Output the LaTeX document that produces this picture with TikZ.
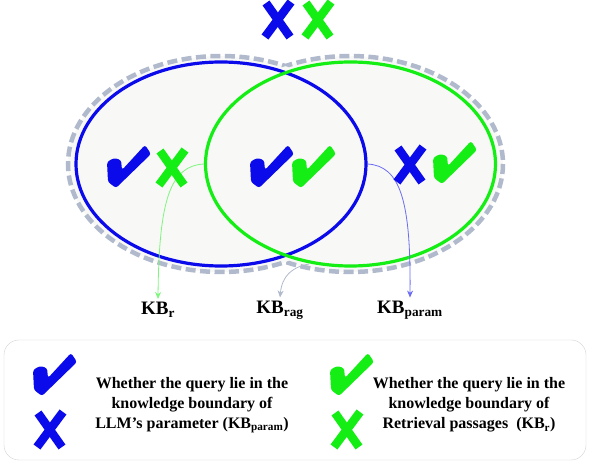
\documentclass[tikz,border=0pt]{standalone}
\usepackage{fontspec}
\setmainfont{Liberation Serif}
\usetikzlibrary{shapes.geometric,arrows.meta}

\definecolor{kbblue}{RGB}{10,10,235}
\definecolor{kbgreen}{RGB}{20,238,20}
\definecolor{kbgray}{RGB}{176,186,204}
\definecolor{kbfill}{RGB}{248,248,246}

\tikzset{
  pics/tickmark/.style={code={
    \fill[#1, rounded corners=2.5pt] (-21,-4) -- (-20,16) -- (-12,22) -- (23,-12)
      -- (17,-21) -- (-6,4) -- (-7,-6) -- (-14,-8) -- cycle;
  }},
  pics/crossmark/.style={code={
    \draw[#1, line width=8.5pt] (-12,-17) -- (12,17);
    \draw[#1, line width=8.5pt] (13,-18) -- (-13,17);
  }}
}

\begin{document}
\begin{tikzpicture}[x=1pt, y=-1pt,
    region/.style={ellipse, draw, line width=3.2pt, inner sep=0pt,
      minimum width=290pt, minimum height=204pt},
    kblabel/.style={font=\fontsize{19}{21}\selectfont\bfseries},
    legendtext/.style={align=center, font=\fontsize{16}{20}\selectfont\bfseries},
    link/.style={-{Stealth[length=7pt, width=6pt]}, line width=0.8pt}]

    \useasboundingbox (0,0) rectangle (590,462);

    % Shaded union of both boundaries
    \fill[kbfill] (221,164) ellipse [x radius=153, y radius=108];
    \fill[kbfill] (350,164) ellipse [x radius=153, y radius=108];

    % Dashed outline of the union
    \begin{scope}[even odd rule]
    \clip (-10,-10) rectangle (600,470)
        (350,164) ellipse [x radius=153, y radius=108];
        \draw[kbgray, line width=4.5pt, dash pattern=on 10pt off 4.5pt]
            (221,164) ellipse [x radius=153, y radius=108];
    \end{scope}
    \begin{scope}[even odd rule]
    \clip (-10,-10) rectangle (600,470)
        (221,164) ellipse [x radius=153, y radius=108];
        \draw[kbgray, line width=4.5pt, dash pattern=on 10pt off 4.5pt]
            (350,164) ellipse [x radius=153, y radius=108];
    \end{scope}

    % Knowledge boundaries
    \node[region, draw=kbblue] (param) at (221,164) {};
    \node[region, draw=kbgreen] (ret) at (350.5,164) {};

    % Labels
    \node[kblabel] (kbr) at (158,310) {KB\textsubscript{r}};
    \node[kblabel] (kbrag) at (280,310) {KB\textsubscript{rag}};
    \node[kblabel] (kbparam) at (410,310) {KB\textsubscript{param}};
    \coordinate (union) at (309,264);

    % Connectors
    \draw[link, kbgreen!55] (ret.west) .. controls (170,166) and (159,200) .. (kbr.north);
    \draw[link, kbblue!60] (param.east) .. controls (400,166) and (411,200) .. (kbparam.north);
    \draw[link, kbgray] (union) .. controls (292,267) and (282,276) .. (kbrag.north);

    % Marks above and inside the regions
    \pic at (278,20) {crossmark=kbblue};
    \pic at (318,20) {crossmark=kbgreen};
    \pic at (128,166) {tickmark=kbblue};
    \pic at (172,168) {crossmark=kbgreen};
    \pic at (271,166) {tickmark=kbblue};
    \pic at (313,166) {tickmark=kbgreen};
    \pic at (410,165) {crossmark=kbblue};
    \pic at (454,162) {tickmark=kbgreen};

    % Legend
    \draw[gray!35, rounded corners=15pt] (4,340) rectangle (586,460);
    \pic at (54,374) {tickmark=kbblue};
    \pic at (50,430) {crossmark=kbblue};
    \node[legendtext] (legparam) at (192,405)
        {Whether the query lie in the\\knowledge boundary of\\LLM’s parameter (KB\textsubscript{param})};
    \pic at (351,374) {tickmark=kbgreen};
    \pic at (347,430) {crossmark=kbgreen};
    \node[legendtext] (legret) at (469,405)
        {Whether the query lie in the\\knowledge boundary of\\Retrieval passages~ (KB\textsubscript{r})};
\end{tikzpicture}
\end{document}
